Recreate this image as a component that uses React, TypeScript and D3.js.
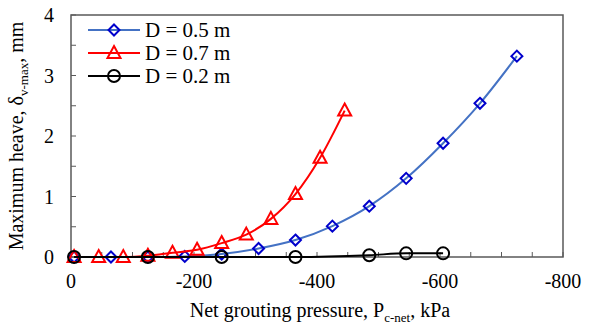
import React, { useRef, useEffect } from 'react';
import * as d3 from 'd3';

// pressures in kPa (negative = grouting), heave in mm
const pressBlue = [-5, -65, -125, -185, -245, -305, -365, -425, -485, -545, -605, -665, -725];
const heaveBlue = [0, 0, 0, 0.01, 0.05, 0.14, 0.28, 0.51, 0.84, 1.3, 1.88, 2.54, 3.32];
const pressRed = [-5, -45, -85, -125, -165, -205, -245, -285, -325, -365, -405, -445];
const heaveRed = [0, 0, 0, 0.02, 0.07, 0.12, 0.23, 0.37, 0.63, 1.04, 1.64, 2.42];
const pressBlack = [-5, -125, -245, -365, -485, -545, -605];
const heaveBlack = [0, 0, 0, 0, 0.03, 0.06, 0.06];

const seriesNames = ['D = 0.5 m', 'D = 0.7 m', 'D = 0.2 m'];
const xTicks = [0, -200, -400, -600, -800];
const yTicks = [0, 1, 2, 3, 4];

const FONT = '"Liberation Serif", "Times New Roman", serif';

const App = () => {
  const svgRef = useRef<SVGSVGElement>(null);

  useEffect(() => {
    const svg = d3.select(svgRef.current);
    svg.selectAll('*').remove();

    const W = 593, H = 324;
    const m = { left: 71, right: 30, top: 15, bottom: 67 };

    const x = d3.scaleLinear().domain([0, -800]).range([m.left, W - m.right]);
    const y = d3.scaleLinear().domain([0, 4]).range([H - m.bottom, m.top]);

    const g = svg.append('g');

    // frame
    g.append('rect')
      .attr('x', x(0)).attr('y', y(4))
      .attr('width', x(-800) - x(0)).attr('height', y(0) - y(4))
      .attr('fill', 'none').attr('stroke', '#595959').attr('stroke-width', 1.5);

    // inward ticks
    g.append('g')
      .selectAll('line')
      .data(d3.range(0, -801, -50))
      .enter().append('line')
      .attr('x1', d => x(d)).attr('x2', d => x(d))
      .attr('y1', y(0)).attr('y2', y(0) - 5)
      .attr('stroke', '#595959').attr('stroke-width', 1);

    g.append('g')
      .selectAll('line')
      .data(d3.range(0, 4.01, 0.5))
      .enter().append('line')
      .attr('x1', x(0)).attr('x2', x(0) + 5)
      .attr('y1', d => y(d)).attr('y2', d => y(d))
      .attr('stroke', '#595959').attr('stroke-width', 1);

    // tick labels
    g.append('g')
      .selectAll('text')
      .data(xTicks)
      .enter().append('text')
      .attr('x', d => x(d))
      .attr('y', 288)
      .attr('text-anchor', 'middle')
      .style('font-family', FONT).style('font-size', '20px')
      .text(d => (d === 0 ? '0' : String(d)));

    g.append('g')
      .selectAll('text')
      .data(yTicks)
      .enter().append('text')
      .attr('x', 54)
      .attr('y', d => y(d) + 7)
      .attr('text-anchor', 'end')
      .style('font-family', FONT).style('font-size', '20px')
      .text(d => String(d));

    const line = d3.line<[number, number]>()
      .x(d => x(d[0]))
      .y(d => y(d[1]))
      .curve(d3.curveMonotoneX);

    const blue = pressBlue.map((p, i) => [p, heaveBlue[i]] as [number, number]);
    const red = pressRed.map((p, i) => [p, heaveRed[i]] as [number, number]);
    const black = pressBlack.map((p, i) => [p, heaveBlack[i]] as [number, number]);

    const diamond = (sel: any) => sel.append('path')
      .attr('d', 'M0,-5.5L5.5,0L0,5.5L-5.5,0Z')
      .attr('fill', 'none').attr('stroke', '#0000CC').attr('stroke-width', 2);
    const triangle = (sel: any) => sel.append('path')
      .attr('d', 'M0,-7L6.5,5L-6.5,5Z')
      .attr('fill', 'none').attr('stroke', '#FF0000').attr('stroke-width', 2);
    const circle = (sel: any) => sel.append('circle')
      .attr('r', 6)
      .attr('fill', 'none').attr('stroke', '#000').attr('stroke-width', 2);

    const series = [
      { data: blue, color: '#4472C4', marker: diamond },
      { data: red, color: '#FF0000', marker: triangle },
      { data: black, color: '#000000', marker: circle },
    ];

    series.forEach(s => {
      g.append('path')
        .datum(s.data)
        .attr('d', line)
        .attr('fill', 'none')
        .attr('stroke', s.color)
        .attr('stroke-width', 2);
      s.data.forEach(d => {
        const mk = g.append('g').attr('transform', `translate(${x(d[0])},${y(d[1])})`);
        s.marker(mk);
      });
    });

    // legend
    const legend = g.append('g');
    series.forEach((s, i) => {
      const ly = 30 + i * 23;
      legend.append('line')
        .attr('x1', 88).attr('x2', 140)
        .attr('y1', ly).attr('y2', ly)
        .attr('stroke', s.color).attr('stroke-width', 2);
      s.marker(legend.append('g').attr('transform', `translate(114,${ly})`));
      legend.append('text')
        .attr('x', 145).attr('y', ly + 7)
        .style('font-family', FONT).style('font-size', '21px')
        .text(seriesNames[i]);
    });

    // axis titles
    const xt = svg.append('text')
      .attr('x', 320).attr('y', 317)
      .attr('text-anchor', 'middle')
      .style('font-family', FONT).style('font-size', '20px');
    xt.append('tspan').text('Net grouting pressure, P');
    xt.append('tspan').attr('dy', 5).style('font-size', '13px').text('c-net');
    xt.append('tspan').attr('dy', -5).text(', kPa');

    const yt = svg.append('text')
      .attr('transform', `translate(23,${(y(0) + y(4)) / 2}) rotate(-90)`)
      .attr('text-anchor', 'middle')
      .style('font-family', FONT).style('font-size', '20px');
    yt.append('tspan').text('Maximum heave, δ');
    yt.append('tspan').attr('dy', 5).style('font-size', '13px').text('v-max');
    yt.append('tspan').attr('dy', -5).text(', mm');
  }, []);

  return (
    <div style={{ position: 'absolute', left: 0, top: 0 }}>
      <svg ref={svgRef} width={593} height={324} style={{ display: 'block', background: '#fff' }} />
    </div>
  );
};

export default App;
